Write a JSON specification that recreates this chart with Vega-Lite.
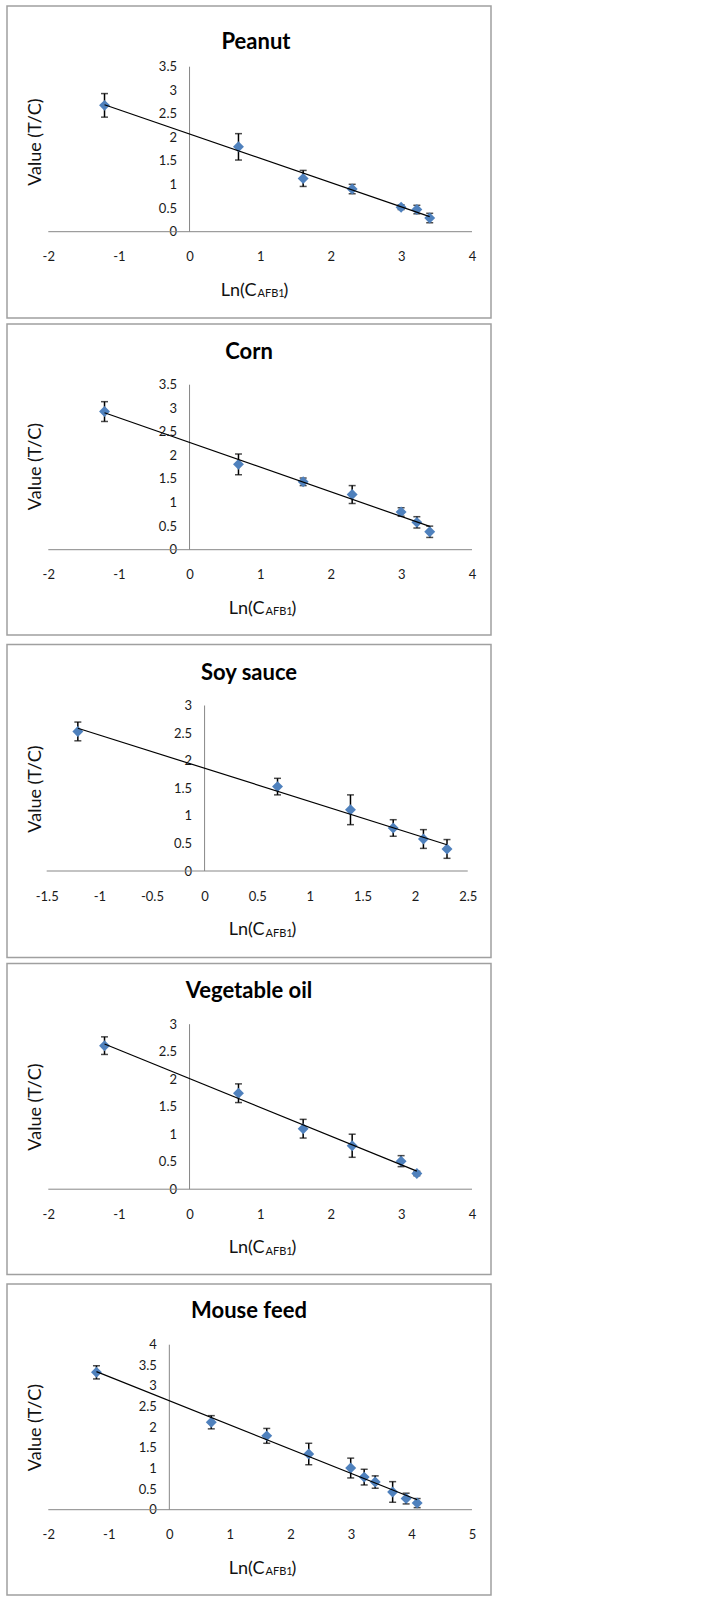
{
  "$schema": "https://vega.github.io/schema/vega-lite/v6.json",
  "padding": {"left": 6, "top": 5, "right": 4, "bottom": 4},
  "background": "white",
  "spacing": 7.5,
  "datasets": {
    "peanut": [
      {"x": -1.204, "y": 2.68, "err": 0.25},
      {"x": 0.693, "y": 1.80, "err": 0.28},
      {"x": 1.609, "y": 1.13, "err": 0.17},
      {"x": 2.303, "y": 0.905, "err": 0.10},
      {"x": 2.996, "y": 0.52, "err": 0.05},
      {"x": 3.219, "y": 0.47, "err": 0.09},
      {"x": 3.401, "y": 0.29, "err": 0.10}
    ],
    "corn": [
      {"x": -1.204, "y": 2.93, "err": 0.21},
      {"x": 0.693, "y": 1.81, "err": 0.22},
      {"x": 1.609, "y": 1.44, "err": 0.08},
      {"x": 2.303, "y": 1.17, "err": 0.19},
      {"x": 2.996, "y": 0.80, "err": 0.09},
      {"x": 3.219, "y": 0.58, "err": 0.12},
      {"x": 3.401, "y": 0.38, "err": 0.12}
    ],
    "soy": [
      {"x": -1.204, "y": 2.53, "err": 0.17},
      {"x": 0.693, "y": 1.53, "err": 0.15},
      {"x": 1.386, "y": 1.11, "err": 0.27},
      {"x": 1.792, "y": 0.78, "err": 0.15},
      {"x": 2.079, "y": 0.58, "err": 0.17},
      {"x": 2.303, "y": 0.40, "err": 0.17}
    ],
    "oil": [
      {"x": -1.204, "y": 2.61, "err": 0.16},
      {"x": 0.693, "y": 1.745, "err": 0.17},
      {"x": 1.609, "y": 1.10, "err": 0.17},
      {"x": 2.303, "y": 0.79, "err": 0.21},
      {"x": 2.996, "y": 0.51, "err": 0.10},
      {"x": 3.219, "y": 0.285, "err": 0.04}
    ],
    "mouse": [
      {"x": -1.204, "y": 3.33, "err": 0.16},
      {"x": 0.693, "y": 2.12, "err": 0.16},
      {"x": 1.609, "y": 1.79, "err": 0.18},
      {"x": 2.303, "y": 1.35, "err": 0.26},
      {"x": 2.996, "y": 1.01, "err": 0.24},
      {"x": 3.219, "y": 0.79, "err": 0.19},
      {"x": 3.401, "y": 0.67, "err": 0.15},
      {"x": 3.689, "y": 0.43, "err": 0.25},
      {"x": 3.912, "y": 0.27, "err": 0.13},
      {"x": 4.094, "y": 0.16, "err": 0.11}
    ]
  },
  "vconcat": [
    {
      "spacing": 4,
      "vconcat": [
        {
          "width": 484, "height": 312,
          "title": {"text": "Peanut", "offset": -47.5, "dx": 7},
          "data": {"name": "peanut"},
          "resolve": {"axis": {"x": "independent", "y": "independent"}},
          "layer": [
            {"data": {"values": [{}]},
             "mark": {"type": "rule", "color": "#878787", "strokeWidth": 1},
             "encoding": {
               "x": {"datum": -2, "type": "quantitative", "scale": {"domain": [-2.585, 4.269], "nice": false, "zero": false},
                     "axis": {"orient": "bottom", "offset": -86.3, "values": [-2, -1, 0, 1, 2, 3, 4], "labelExpr": "'' + datum.value", "labelPadding": 25, "labelBaseline": "middle", "title": "Ln(C", "titleX": 249, "titleY": 58.3, "titleAlign": "right", "titleBaseline": "middle"}},
               "x2": {"datum": 4},
               "y": {"datum": 0, "type": "quantitative", "scale": {"domain": [-1.8306, 4.7876], "nice": false, "zero": false},
                     "axis": {"orient": "left", "offset": -182.5, "values": [0, 0.5, 1, 1.5, 2, 2.5, 3, 3.5], "labelExpr": "'' + datum.value", "labelPadding": 13, "labelBaseline": "middle", "title": "Value (T/C)", "titleX": -154.5, "titleY": 135.7, "titleAlign": "center", "titleBaseline": "middle", "titleAngle": -90, "titleFontSize": 18}}
             }},
            {"data": {"values": [{}]},
             "mark": {"type": "rule", "color": "#878787", "strokeWidth": 1},
             "encoding": {
               "x": {"datum": 0, "type": "quantitative", "axis": {"orient": "bottom", "offset": -86.3, "labels": false, "title": "AFB1", "titleX": 250, "titleY": 62, "titleAlign": "left", "titleBaseline": "middle", "titleFontSize": 11}},
               "y": {"datum": 0, "type": "quantitative", "axis": null},
               "y2": {"datum": 3.5}
             }},
            {"mark": {"type": "errorbar", "ticks": {"size": 7, "thickness": 1.5}, "thickness": 1.5, "color": "#000"},
             "encoding": {
               "x": {"field": "x", "type": "quantitative", "axis": null},
               "y": {"field": "y", "type": "quantitative", "axis": null},
               "yError": {"field": "err"}
             }},
            {"mark": {"type": "point", "shape": "diamond", "filled": true, "size": 120, "color": "#4f81bd", "opacity": 1},
             "encoding": {
               "x": {"field": "x", "type": "quantitative", "axis": {"orient": "bottom", "offset": -86.3, "labels": false, "title": ")", "titleX": 276, "titleY": 58.3, "titleAlign": "left", "titleBaseline": "middle"}},
               "y": {"field": "y", "type": "quantitative", "axis": null}
             }},
            {"transform": [{"regression": "y", "on": "x"}],
             "mark": {"type": "line", "color": "#000", "strokeWidth": 1.2},
             "encoding": {
               "x": {"field": "x", "type": "quantitative", "axis": null},
               "y": {"field": "y", "type": "quantitative", "axis": null}
             }}
          ]
        },
        {
          "width": 484, "height": 311,
          "title": {"text": "Corn", "offset": -40},
          "data": {"name": "corn"},
          "resolve": {"axis": {"x": "independent", "y": "independent"}},
          "layer": [
            {"data": {"values": [{}]},
             "mark": {"type": "rule", "color": "#878787", "strokeWidth": 1},
             "encoding": {
               "x": {"datum": -2, "type": "quantitative", "scale": {"domain": [-2.585, 4.269], "nice": false, "zero": false},
                     "axis": {"orient": "bottom", "offset": -85.3, "values": [-2, -1, 0, 1, 2, 3, 4], "labelExpr": "'' + datum.value", "labelPadding": 25, "labelBaseline": "middle", "title": "Ln(C", "titleX": 257, "titleY": 58.3, "titleAlign": "right", "titleBaseline": "middle"}},
               "x2": {"datum": 4},
               "y": {"datum": 0, "type": "quantitative", "scale": {"domain": [-1.8094, 4.7876], "nice": false, "zero": false},
                     "axis": {"orient": "left", "offset": -182.5, "values": [0, 0.5, 1, 1.5, 2, 2.5, 3, 3.5], "labelExpr": "'' + datum.value", "labelPadding": 13, "labelBaseline": "middle", "title": "Value (T/C)", "titleX": -154.5, "titleY": 142, "titleAlign": "center", "titleBaseline": "middle", "titleAngle": -90, "titleFontSize": 18}}
             }},
            {"data": {"values": [{}]},
             "mark": {"type": "rule", "color": "#878787", "strokeWidth": 1},
             "encoding": {
               "x": {"datum": 0, "type": "quantitative", "axis": {"orient": "bottom", "offset": -85.3, "labels": false, "title": "AFB1", "titleX": 258, "titleY": 62, "titleAlign": "left", "titleBaseline": "middle", "titleFontSize": 11}},
               "y": {"datum": 0, "type": "quantitative", "axis": null},
               "y2": {"datum": 3.5}
             }},
            {"mark": {"type": "errorbar", "ticks": {"size": 7, "thickness": 1.5}, "thickness": 1.5, "color": "#000"},
             "encoding": {
               "x": {"field": "x", "type": "quantitative", "axis": null},
               "y": {"field": "y", "type": "quantitative", "axis": null},
               "yError": {"field": "err"}
             }},
            {"mark": {"type": "point", "shape": "diamond", "filled": true, "size": 120, "color": "#4f81bd", "opacity": 1},
             "encoding": {
               "x": {"field": "x", "type": "quantitative", "axis": {"orient": "bottom", "offset": -85.3, "labels": false, "title": ")", "titleX": 284, "titleY": 58.3, "titleAlign": "left", "titleBaseline": "middle"}},
               "y": {"field": "y", "type": "quantitative", "axis": null}
             }},
            {"transform": [{"regression": "y", "on": "x"}],
             "mark": {"type": "line", "color": "#000", "strokeWidth": 1.2},
             "encoding": {
               "x": {"field": "x", "type": "quantitative", "axis": null},
               "y": {"field": "y", "type": "quantitative", "axis": null}
             }}
          ]
        }
      ]
    },
    {
      "spacing": 4,
      "vconcat": [
        {
          "width": 484, "height": 313,
          "title": {"text": "Soy sauce", "offset": -40},
          "data": {"name": "soy"},
          "resolve": {"axis": {"x": "independent", "y": "independent"}},
          "layer": [
            {"data": {"values": [{}]},
             "mark": {"type": "rule", "color": "#878787", "strokeWidth": 1},
             "encoding": {
               "x": {"datum": -1.5, "type": "quantitative", "scale": {"domain": [-1.877, 2.721], "nice": false, "zero": false},
                     "axis": {"orient": "bottom", "offset": -86.5, "values": [-1.5, -1, -0.5, 0, 0.5, 1, 1.5, 2, 2.5], "labelExpr": "'' + datum.value", "labelPadding": 25, "labelBaseline": "middle", "title": "Ln(C", "titleX": 257, "titleY": 58.3, "titleAlign": "right", "titleBaseline": "middle"}},
               "x2": {"datum": 2.5},
               "y": {"datum": 0, "type": "quantitative", "scale": {"domain": [-1.568, 4.106], "nice": false, "zero": false},
                     "axis": {"orient": "left", "offset": -197.6, "values": [0, 0.5, 1, 1.5, 2, 2.5, 3], "labelExpr": "'' + datum.value", "labelPadding": 13, "labelBaseline": "middle", "title": "Value (T/C)", "titleX": -169.6, "titleY": 144, "titleAlign": "center", "titleBaseline": "middle", "titleAngle": -90, "titleFontSize": 18}}
             }},
            {"data": {"values": [{}]},
             "mark": {"type": "rule", "color": "#878787", "strokeWidth": 1},
             "encoding": {
               "x": {"datum": 0, "type": "quantitative", "axis": {"orient": "bottom", "offset": -86.5, "labels": false, "title": "AFB1", "titleX": 258, "titleY": 62, "titleAlign": "left", "titleBaseline": "middle", "titleFontSize": 11}},
               "y": {"datum": 0, "type": "quantitative", "axis": null},
               "y2": {"datum": 3}
             }},
            {"mark": {"type": "errorbar", "ticks": {"size": 7, "thickness": 1.5}, "thickness": 1.5, "color": "#000"},
             "encoding": {
               "x": {"field": "x", "type": "quantitative", "axis": null},
               "y": {"field": "y", "type": "quantitative", "axis": null},
               "yError": {"field": "err"}
             }},
            {"mark": {"type": "point", "shape": "diamond", "filled": true, "size": 120, "color": "#4f81bd", "opacity": 1},
             "encoding": {
               "x": {"field": "x", "type": "quantitative", "axis": {"orient": "bottom", "offset": -86.5, "labels": false, "title": ")", "titleX": 284, "titleY": 58.3, "titleAlign": "left", "titleBaseline": "middle"}},
               "y": {"field": "y", "type": "quantitative", "axis": null}
             }},
            {"transform": [{"regression": "y", "on": "x"}],
             "mark": {"type": "line", "color": "#000", "strokeWidth": 1.2},
             "encoding": {
               "x": {"field": "x", "type": "quantitative", "axis": null},
               "y": {"field": "y", "type": "quantitative", "axis": null}
             }}
          ]
        },
        {
          "width": 484, "height": 311,
          "title": {"text": "Vegetable oil", "offset": -39.4},
          "data": {"name": "oil"},
          "resolve": {"axis": {"x": "independent", "y": "independent"}},
          "layer": [
            {"data": {"values": [{}]},
             "mark": {"type": "rule", "color": "#878787", "strokeWidth": 1},
             "encoding": {
               "x": {"datum": -2, "type": "quantitative", "scale": {"domain": [-2.585, 4.269], "nice": false, "zero": false},
                     "axis": {"orient": "bottom", "offset": -85.3, "values": [-2, -1, 0, 1, 2, 3, 4], "labelExpr": "'' + datum.value", "labelPadding": 25, "labelBaseline": "middle", "title": "Ln(C", "titleX": 257, "titleY": 58.3, "titleAlign": "right", "titleBaseline": "middle"}},
               "x2": {"datum": 4},
               "y": {"datum": 0, "type": "quantitative", "scale": {"domain": [-1.5509, 4.1036], "nice": false, "zero": false},
                     "axis": {"orient": "left", "offset": -182.5, "values": [0, 0.5, 1, 1.5, 2, 2.5, 3], "labelExpr": "'' + datum.value", "labelPadding": 13, "labelBaseline": "middle", "title": "Value (T/C)", "titleX": -154.5, "titleY": 143, "titleAlign": "center", "titleBaseline": "middle", "titleAngle": -90, "titleFontSize": 18}}
             }},
            {"data": {"values": [{}]},
             "mark": {"type": "rule", "color": "#878787", "strokeWidth": 1},
             "encoding": {
               "x": {"datum": 0, "type": "quantitative", "axis": {"orient": "bottom", "offset": -85.3, "labels": false, "title": "AFB1", "titleX": 258, "titleY": 62, "titleAlign": "left", "titleBaseline": "middle", "titleFontSize": 11}},
               "y": {"datum": 0, "type": "quantitative", "axis": null},
               "y2": {"datum": 3}
             }},
            {"mark": {"type": "errorbar", "ticks": {"size": 7, "thickness": 1.5}, "thickness": 1.5, "color": "#000"},
             "encoding": {
               "x": {"field": "x", "type": "quantitative", "axis": null},
               "y": {"field": "y", "type": "quantitative", "axis": null},
               "yError": {"field": "err"}
             }},
            {"mark": {"type": "point", "shape": "diamond", "filled": true, "size": 120, "color": "#4f81bd", "opacity": 1},
             "encoding": {
               "x": {"field": "x", "type": "quantitative", "axis": {"orient": "bottom", "offset": -85.3, "labels": false, "title": ")", "titleX": 284, "titleY": 58.3, "titleAlign": "left", "titleBaseline": "middle"}},
               "y": {"field": "y", "type": "quantitative", "axis": null}
             }},
            {"transform": [{"regression": "y", "on": "x"}],
             "mark": {"type": "line", "color": "#000", "strokeWidth": 1.2},
             "encoding": {
               "x": {"field": "x", "type": "quantitative", "axis": null},
               "y": {"field": "y", "type": "quantitative", "axis": null}
             }}
          ]
        }
      ]
    },
    {
      "width": 484, "height": 311,
      "title": {"text": "Mouse feed", "offset": -39.4},
      "data": {"name": "mouse"},
      "resolve": {"axis": {"x": "independent", "y": "independent"}},
      "layer": [
        {"data": {"values": [{}]},
         "mark": {"type": "rule", "color": "#878787", "strokeWidth": 1},
         "encoding": {
           "x": {"datum": -2, "type": "quantitative", "scale": {"domain": [-2.682, 5.314], "nice": false, "zero": false},
                 "axis": {"orient": "bottom", "offset": -85.3, "values": [-2, -1, 0, 1, 2, 3, 4, 5], "labelExpr": "'' + datum.value", "labelPadding": 25, "labelBaseline": "middle", "title": "Ln(C", "titleX": 257, "titleY": 58.3, "titleAlign": "right", "titleBaseline": "middle"}},
           "x2": {"datum": 5},
           "y": {"datum": 0, "type": "quantitative", "scale": {"domain": [-2.0679, 5.4715], "nice": false, "zero": false},
                 "axis": {"orient": "left", "offset": -162.4, "values": [0, 0.5, 1, 1.5, 2, 2.5, 3, 3.5, 4], "labelExpr": "'' + datum.value", "labelPadding": 13, "labelBaseline": "middle", "title": "Value (T/C)", "titleX": -134.4, "titleY": 143, "titleAlign": "center", "titleBaseline": "middle", "titleAngle": -90, "titleFontSize": 18}}
         }},
        {"data": {"values": [{}]},
         "mark": {"type": "rule", "color": "#878787", "strokeWidth": 1},
         "encoding": {
           "x": {"datum": 0, "type": "quantitative", "axis": {"orient": "bottom", "offset": -85.3, "labels": false, "title": "AFB1", "titleX": 258, "titleY": 62, "titleAlign": "left", "titleBaseline": "middle", "titleFontSize": 11}},
           "y": {"datum": 0, "type": "quantitative", "axis": null},
           "y2": {"datum": 4}
         }},
        {"mark": {"type": "errorbar", "ticks": {"size": 7, "thickness": 1.5}, "thickness": 1.5, "color": "#000"},
         "encoding": {
           "x": {"field": "x", "type": "quantitative", "axis": null},
           "y": {"field": "y", "type": "quantitative", "axis": null},
           "yError": {"field": "err"}
         }},
        {"mark": {"type": "point", "shape": "diamond", "filled": true, "size": 120, "color": "#4f81bd", "opacity": 1},
         "encoding": {
           "x": {"field": "x", "type": "quantitative", "axis": {"orient": "bottom", "offset": -85.3, "labels": false, "title": ")", "titleX": 284, "titleY": 58.3, "titleAlign": "left", "titleBaseline": "middle"}},
           "y": {"field": "y", "type": "quantitative", "axis": null}
         }},
        {"transform": [{"regression": "y", "on": "x"}],
         "mark": {"type": "line", "color": "#000", "strokeWidth": 1.2},
         "encoding": {
           "x": {"field": "x", "type": "quantitative", "axis": null},
           "y": {"field": "y", "type": "quantitative", "axis": null}
         }}
      ]
    }
  ],
  "config": {
    "view": {"stroke": "#a0a0a0", "strokeWidth": 1.5},
    "font": "Lato",
    "axis": {"grid": false, "domain": false, "ticks": false, "labelFont": "Lato", "labelFontSize": 13, "labelColor": "#1a1a1a", "titleFont": "Lato", "titleFontWeight": "normal", "titleColor": "#111", "titleFontSize": 18},
    "title": {"font": "Lato", "fontSize": 22, "fontWeight": "bold", "color": "#000", "anchor": "middle", "frame": "group", "baseline": "middle"}
  }
}
